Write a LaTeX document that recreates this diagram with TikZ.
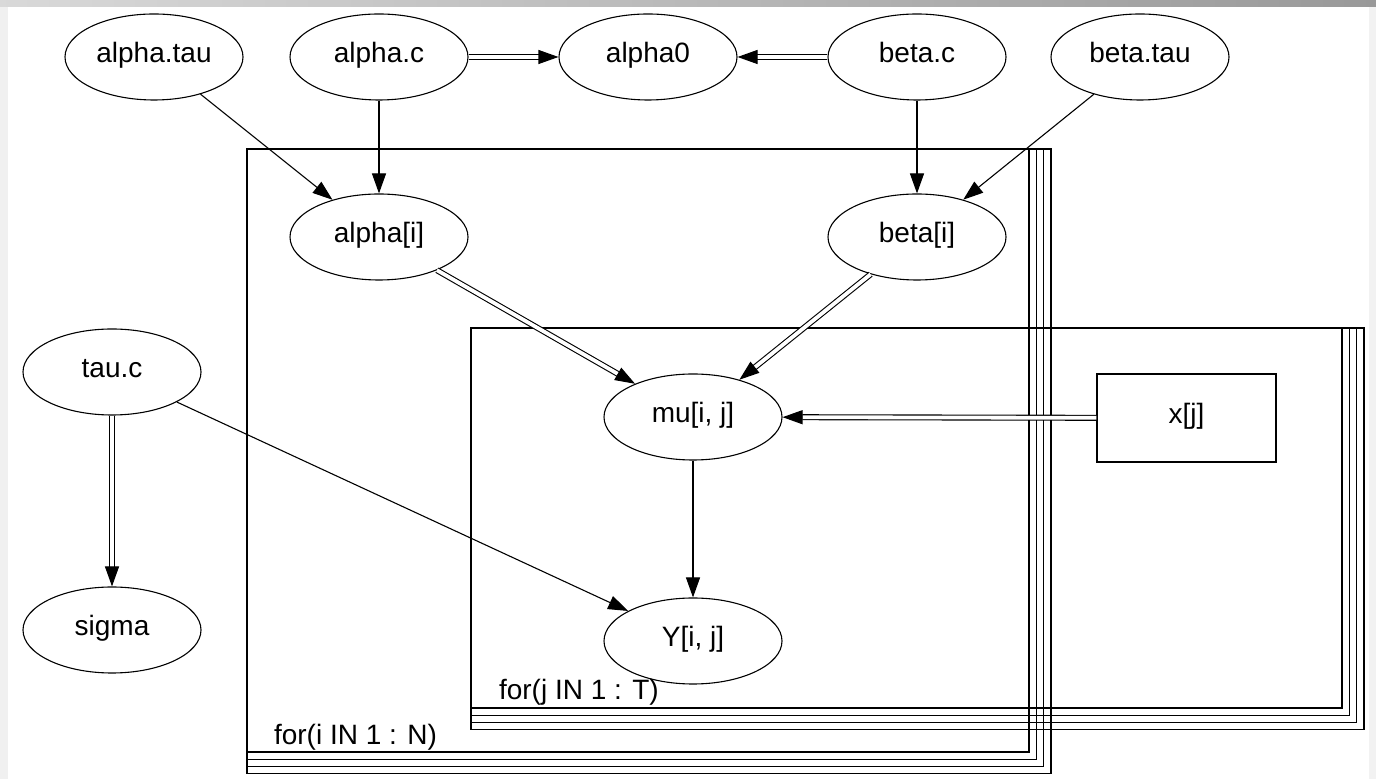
\documentclass[tikz,border=0pt]{standalone}
\usepackage{fontspec}
\setmainfont{Liberation Sans}
\usetikzlibrary{shapes.geometric, arrows.meta}

\begin{document}
\begin{tikzpicture}[x=0.5pt, y=-0.5pt,
        every node/.style={font=\fontsize{14}{16}\selectfont},
        varnode/.style={draw, ellipse, line width=0.55pt, minimum width=89pt, minimum height=43pt, inner sep=0pt, text height=10pt, text depth=4.5pt},
        datanode/.style={draw, rectangle, line width=0.6pt, minimum width=89.5pt, minimum height=44pt, inner sep=0pt, text height=10pt, text depth=4.5pt},
        stochlink/.style={line width=0.55pt, -{Triangle[length=10pt, width=7pt]}},
        logiclink/.style={line width=0.55pt, double, double distance=1.9pt, -{Triangle[length=10pt, width=7pt]}},
        plateline/.style={line width=0.6pt}]

        \useasboundingbox (0,0) rectangle (1376,779);
        \fill[white] (0,0) rectangle (1376,779);

        % window frame
        \shade[left color=gray!30, right color=gray!80] (0,0) rectangle (1376,7);
        \fill[gray!12] (0,7) rectangle (8,779);
        \fill[gray!10] (1369,7) rectangle (1376,779);

        % plates
        \foreach \k in {0,...,3} {
            \draw[plateline] (247,149) rectangle ({1029+7.3*\k},{752+7.3*\k});
            \draw[plateline] (471,328) rectangle ({1342+7.3*\k},{708+7.3*\k});
        }
        \node[anchor=base west] (platei) at (267,745) {for(i IN 1 : N)};
        \node[anchor=base west] (platej) at (492,700) {for(j IN 1 : T)};

        % nodes
        \node[varnode] (alphatau) at (154,57) {alpha.tau};
        \node[varnode] (alphac) at (379,57) {alpha.c};
        \node[varnode] (alphazero) at (648,57) {alpha0};
        \node[varnode] (betac) at (917,57) {beta.c};
        \node[varnode] (betatau) at (1140,57) {beta.tau};

        \node[varnode] (alphai) at (379,237) {alpha[i]};
        \node[varnode] (betai) at (917,237) {beta[i]};

        \node[varnode] (tauc) at (112,372) {tau.c};
        \node[varnode] (sigma) at (112,630) {sigma};

        \node[varnode] (mu) at (693,417) {mu[i, j]};
        \node[varnode] (Y) at (693,641) {Y[i, j]};
        \node[datanode] (xj) at (1186.5,418) {x[j]};

        % links
        \draw[stochlink] (alphatau) -- (alphai);
        \draw[stochlink] (alphac) -- (alphai);
        \draw[logiclink] (alphac) -- (alphazero);
        \draw[logiclink] (betac) -- (alphazero);
        \draw[stochlink] (betac) -- (betai);
        \draw[stochlink] (betatau) -- (betai);
        \draw[logiclink] (alphai) -- (mu);
        \draw[logiclink] (betai) -- (mu);
        \draw[logiclink] (xj) -- (mu);
        \draw[stochlink] (mu) -- (Y);
        \draw[stochlink] (tauc) -- (Y);
        \draw[logiclink] (tauc) -- (sigma);
    \end{tikzpicture}
\end{document}
